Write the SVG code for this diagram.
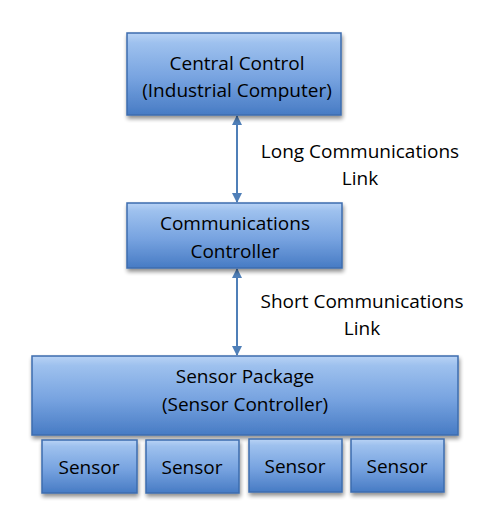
<svg xmlns="http://www.w3.org/2000/svg" width="497" height="526" viewBox="0 0 497 526">
<defs>
<linearGradient id="g" x1="0" y1="0" x2="0" y2="1">
<stop offset="0" stop-color="#b9d3f5"/>
<stop offset="0.12" stop-color="#9ec1ee"/>
<stop offset="0.55" stop-color="#77a3e0"/>
<stop offset="1" stop-color="#477bc4"/>
</linearGradient>
<filter id="sh" x="-10%" y="-10%" width="120%" height="140%">
<feGaussianBlur in="SourceAlpha" stdDeviation="2"/>
<feOffset dx="1" dy="3" result="b"/>
<feComponentTransfer><feFuncA type="linear" slope="0.45"/></feComponentTransfer>
<feMerge><feMergeNode/><feMergeNode in="SourceGraphic"/></feMerge>
</filter>
<marker id="ah" viewBox="0 0 10 10" refX="9" refY="5" markerWidth="10" markerHeight="10" markerUnits="userSpaceOnUse" orient="auto-start-reverse">
<path d="M0,0 L10,5 L0,10 z" fill="#4f7fb8"/>
</marker>
</defs>
<style>
.box{fill:url(#g);stroke:#3c6cae;stroke-width:1.5;filter:url(#sh)}
.t{font-family:"Open Sans","Liberation Sans",sans-serif;font-size:19px;fill:#000;text-anchor:middle}
.c{stroke:#4f7fb8;stroke-width:2;fill:none;marker-start:url(#ah);marker-end:url(#ah)}
</style>
<rect width="497" height="526" fill="#fff"/>
<g id="connectors">
<line class="c" x1="237" y1="116" x2="237" y2="202"/>
<line class="c" x1="237" y1="269" x2="237" y2="355"/>
<text class="t" x="360" y="158">Long Communications</text>
<text class="t" x="360" y="185">Link</text>
<text class="t" x="362" y="308">Short Communications</text>
<text class="t" x="362" y="335">Link</text>
</g>
<g id="central">
<rect class="box" x="127" y="33" width="214" height="82"/>
<text class="t" x="237" y="70">Central Control</text>
<text class="t" x="237" y="97">(Industrial Computer)</text>
</g>
<g id="comm">
<rect class="box" x="127" y="203" width="215" height="65"/>
<text class="t" x="235" y="230">Communications</text>
<text class="t" x="235" y="258">Controller</text>
</g>
<g id="package">
<rect class="box" x="32" y="356" width="426" height="79"/>
<text class="t" x="245" y="383">Sensor Package</text>
<text class="t" x="245" y="411">(Sensor Controller)</text>
</g>
<g id="sensor1">
<rect class="box" x="42" y="440" width="95" height="53"/>
<text class="t" x="89" y="474">Sensor</text>
</g>
<g id="sensor2">
<rect class="box" x="146" y="440" width="93" height="53"/>
<text class="t" x="192" y="474">Sensor</text>
</g>
<g id="sensor3">
<rect class="box" x="249" y="439" width="93" height="53"/>
<text class="t" x="295" y="473">Sensor</text>
</g>
<g id="sensor4">
<rect class="box" x="351" y="439" width="93" height="53"/>
<text class="t" x="397" y="473">Sensor</text>
</g>
</svg>
